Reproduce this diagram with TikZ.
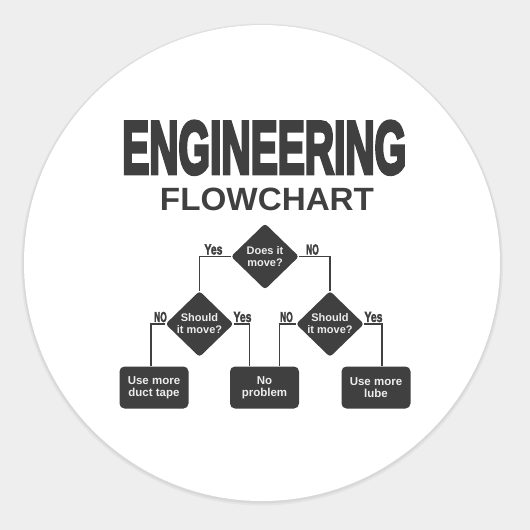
\documentclass[tikz,border=0pt]{standalone}
\usepackage{fontspec}
\setmainfont{Liberation Sans}
\newfontfamily\heavyfont{Liberation Sans Bold}[FakeBold=5.5]
\newfontfamily\semiheavy{Liberation Sans Bold}[FakeBold=3]
\usetikzlibrary{shapes.geometric}
\definecolor{bg}{HTML}{EEEEEE}
\definecolor{ink}{HTML}{404040}
\definecolor{paper}{HTML}{ECECEC}
\begin{document}
\begin{tikzpicture}[x=1pt,y=-1pt,
  dec/.style={shape=diamond, fill=ink, draw=none, inner sep=0pt, minimum width=68pt, minimum height=66pt, rounded corners=3pt},
  dtext/.style={text=paper, font=\bfseries\fontsize{11}{12}\selectfont, align=center, inner sep=0pt},
  endbox/.style={shape=rectangle, fill=ink, rounded corners=5pt, minimum width=69pt, minimum height=42pt, inner sep=0pt, text=paper, font=\bfseries\fontsize{11.5}{12}\selectfont, align=center},
  wire/.style={draw=ink, line width=1.6pt},
  ans/.style={text=ink, inner sep=0pt, font=\semiheavy\fontsize{14.5}{15}\selectfont},
  title/.style={text=ink, inner sep=0pt}
]
\fill[bg] (0,0) rectangle (530,530);
\useasboundingbox (0,0) rectangle (530,530);
% sticker shadow and face
\fill[black, opacity=0.04] (262,264.5) circle (241);
\fill[black, opacity=0.05] (262,264) circle (239.5);
\fill[white] (262,263) circle (238);

% title
\node[title] (t1) at (264.2,147.8) {\resizebox{284pt}{52pt}{\heavyfont\fontsize{40}{40}\selectfont ENGINEERING}};
\node[title] (t2) at (267,199) {\resizebox{214pt}{22.5pt}{\bfseries FLOWCHART}};

% decisions
\node[dec, label={[dtext]center:Does it\\move?}] (d1) at (265,256.5) {};
\node[dec, label={[dtext]center:Should\\it move?}] (d2) at (199.5,324) {};
\node[dec, label={[dtext]center:Should\\it move?}] (d3) at (330,324) {};

% outcomes
\node[endbox] (b1) at (154,387.5) {Use more\\duct tape};
\node[endbox] (b2) at (264.5,387.5) {No\\problem};
\node[endbox] (b3) at (376,387.5) {Use more\\lube};

% connectors
\draw[wire] (d1.west) -| (d2.north);
\draw[wire] (d1.east) -| (d3.north);
\draw[wire] (d2.west) -| ([xshift=-3pt]b1.north);
\draw[wire] (d2.east) -| ([xshift=-15pt]b2.north);
\draw[wire] (d3.west) -| ([xshift=15pt]b2.north);
\draw[wire] (d3.east) -| ([xshift=6pt]b3.north);

% answers
\node[ans] (y1) at (213.5,249.5) {\scalebox{0.72}[1]{Yes}};
\node[ans] (n1) at (312.5,249.5) {\scalebox{0.58}[1]{NO}};
\node[ans] (n2) at (160.5,317) {\scalebox{0.58}[1]{NO}};
\node[ans] (y2) at (242.5,317) {\scalebox{0.72}[1]{Yes}};
\node[ans] (n3) at (286.5,317) {\scalebox{0.58}[1]{NO}};
\node[ans] (y3) at (373.5,317) {\scalebox{0.72}[1]{Yes}};
\end{tikzpicture}
\end{document}
